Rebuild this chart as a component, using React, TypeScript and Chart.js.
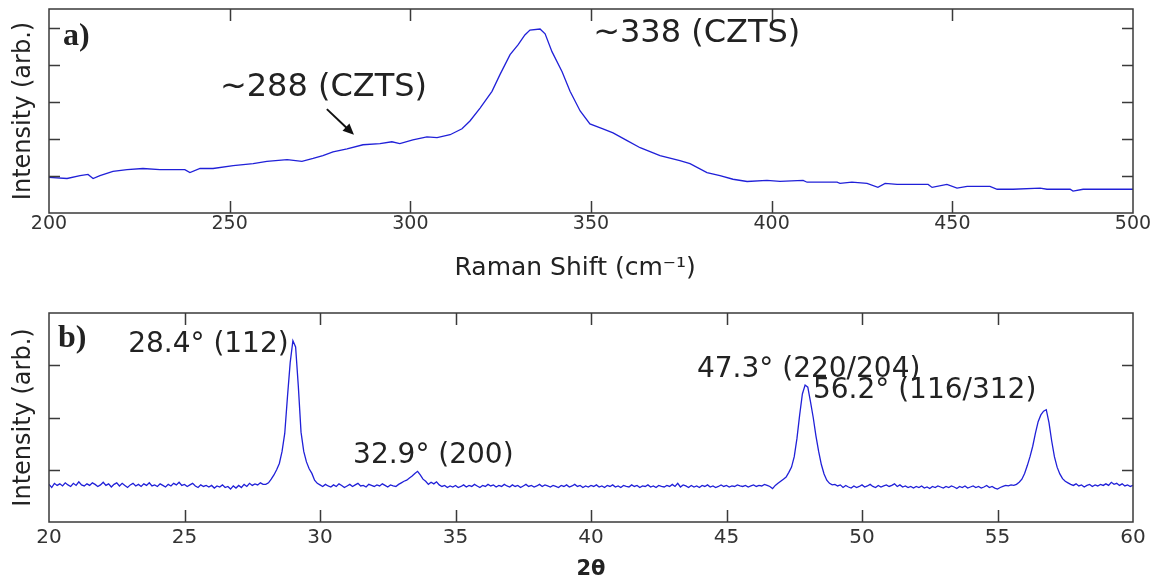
import React, { useEffect, useRef } from "react";
import { Chart, registerables } from "chart.js";

Chart.register(...registerables);

// ---------- Panel a) Raman ----------
const RAMAN_SHIFT = [
  200, 205, 208.6, 210.8, 212.2, 214.1, 217.7, 221.6, 226, 230.7, 237.6, 239, 241.8, 245.4, 251, 256.5,
  260.3, 265.9, 270, 273.1, 275.8, 278.6, 282.5, 286.9, 291.6, 294.9, 297.1, 300.7, 304.6, 307.4, 311,
  314.3, 316.5, 319.3, 322.6, 324.8, 327.6, 329.8, 331.7, 333.1, 335.9, 337.3, 339.2, 342, 344.2, 347,
  349.7, 353.3, 356.1, 360, 363.6, 369.1, 374.6, 377.4, 382.1, 385.7, 389.3, 393.2, 398.7, 402.3, 408.7,
  409.8, 418.1, 418.9, 422.2, 426.4, 429.4, 431.4, 434.7, 443.3, 444.4, 448.5, 451.3, 454.1, 460.4,
  462.4, 466.8, 474.3, 476.2, 482.6, 483.4, 486.2, 500,
];
const RAMAN_INTENSITY = [
  0.96, 0.93, 1.01, 1.04, 0.93, 1.01, 1.12, 1.17, 1.2, 1.17, 1.17, 1.09, 1.2, 1.2, 1.28, 1.33,
  1.39, 1.44, 1.39, 1.47, 1.55, 1.65, 1.73, 1.84, 1.87, 1.92, 1.87, 1.97, 2.05, 2.03, 2.11,
  2.27, 2.48, 2.83, 3.28, 3.73, 4.27, 4.53, 4.8, 4.93, 4.96, 4.83, 4.35, 3.81, 3.28, 2.75,
  2.4, 2.27, 2.16, 1.95, 1.76, 1.55, 1.41, 1.33, 1.09, 1.01, 0.91, 0.85, 0.88, 0.85, 0.88,
  0.83, 0.83, 0.8, 0.83, 0.8, 0.69, 0.8, 0.77, 0.77, 0.69, 0.77, 0.67, 0.72, 0.72,
  0.64, 0.64, 0.67, 0.64, 0.64, 0.59, 0.64, 0.64,
];
const RAMAN_X_MIN = 200;
const RAMAN_X_MAX = 500;
const RAMAN_X_STEP = 50;
const RAMAN_Y_MAX = 5.5;
const RAMAN_LABELS = ["a)", "~288 (CZTS)", "~338 (CZTS)"];
const RAMAN_LABEL_AT = [
  [203.9, 4.53],
  [247.3, 3.15],
  [350.6, 4.61],
];
const RAMAN_ARROW = [
  [276.9, 2.8],
  [284.4, 2.11],
];

// ---------- Panel b) XRD ----------
const XRD_START = 20;
const XRD_STEP = 0.1;
const XRD_INTENSITY = [
  0.72, 0.66, 0.74, 0.70, 0.73, 0.69, 0.75, 0.71, 0.68, 0.74,
  0.70, 0.77, 0.71, 0.69, 0.73, 0.70, 0.75, 0.72, 0.68, 0.71,
  0.76, 0.70, 0.73, 0.67, 0.72, 0.75, 0.69, 0.74, 0.70, 0.66,
  0.71, 0.74, 0.69, 0.72, 0.68, 0.73, 0.70, 0.75, 0.69, 0.71,
  0.68, 0.73, 0.70, 0.67, 0.72, 0.69, 0.74, 0.71, 0.76, 0.70,
  0.72, 0.68, 0.71, 0.74, 0.69, 0.66, 0.71, 0.68, 0.70, 0.67,
  0.70, 0.65, 0.69, 0.67, 0.71, 0.66, 0.68, 0.63, 0.69, 0.65,
  0.70, 0.66, 0.72, 0.68, 0.74, 0.70, 0.73, 0.71, 0.75, 0.72,
  0.72, 0.75, 0.82, 0.90, 1.00, 1.12, 1.35, 1.70, 2.40, 3.05,
  3.47, 3.35, 2.60, 1.72, 1.35, 1.15, 1.02, 0.93, 0.80, 0.74,
  0.71, 0.68, 0.72, 0.69, 0.67, 0.71, 0.68, 0.73, 0.70, 0.66,
  0.69, 0.72, 0.68, 0.71, 0.74, 0.69, 0.70, 0.67, 0.72, 0.70,
  0.68, 0.71, 0.69, 0.73, 0.70, 0.67, 0.71, 0.69, 0.68, 0.72,
  0.75, 0.78, 0.80, 0.84, 0.88, 0.93, 0.97, 0.90, 0.82, 0.78,
  0.72, 0.76, 0.73, 0.77, 0.71, 0.68, 0.70, 0.66, 0.69, 0.67,
  0.70, 0.66, 0.68, 0.71, 0.67, 0.70, 0.68, 0.72, 0.69, 0.66,
  0.70, 0.68, 0.72, 0.69, 0.71, 0.67, 0.70, 0.68, 0.72, 0.69,
  0.67, 0.71, 0.68, 0.70, 0.66, 0.69, 0.72, 0.68, 0.70, 0.67,
  0.69, 0.72, 0.68, 0.71, 0.69, 0.67, 0.70, 0.68, 0.66, 0.70,
  0.68, 0.71, 0.67, 0.69, 0.72, 0.68, 0.70, 0.66, 0.69, 0.67,
  0.70, 0.68, 0.71, 0.67, 0.69, 0.66, 0.70, 0.68, 0.71, 0.67,
  0.69, 0.66, 0.70, 0.68, 0.67, 0.71, 0.68, 0.70, 0.66, 0.69,
  0.68, 0.71, 0.67, 0.69, 0.66, 0.70, 0.68, 0.67, 0.70, 0.68,
  0.72, 0.68, 0.74, 0.67, 0.71, 0.69, 0.66, 0.70, 0.67, 0.69,
  0.66, 0.70, 0.68, 0.71, 0.67, 0.69, 0.66, 0.68, 0.71, 0.68,
  0.70, 0.67, 0.69, 0.68, 0.71, 0.69, 0.68, 0.70, 0.67, 0.69,
  0.71, 0.68, 0.70, 0.69, 0.72, 0.70, 0.68, 0.64, 0.70, 0.74,
  0.78, 0.82, 0.86, 0.95, 1.05, 1.25, 1.60, 2.05, 2.45, 2.62,
  2.58, 2.30, 2.00, 1.65, 1.35, 1.10, 0.92, 0.80, 0.74, 0.71,
  0.72, 0.69, 0.71, 0.66, 0.70, 0.67, 0.65, 0.69, 0.66, 0.68,
  0.71, 0.67, 0.69, 0.72, 0.68, 0.66, 0.70, 0.67, 0.69, 0.71,
  0.68, 0.70, 0.73, 0.68, 0.71, 0.67, 0.69, 0.66, 0.68, 0.65,
  0.68, 0.66, 0.69, 0.65, 0.67, 0.64, 0.68, 0.66, 0.69, 0.67,
  0.65, 0.68, 0.66, 0.69, 0.67, 0.64, 0.68, 0.66, 0.69, 0.65,
  0.67, 0.69, 0.66, 0.68, 0.65, 0.67, 0.70, 0.66, 0.68, 0.65,
  0.63, 0.66, 0.68, 0.70, 0.69, 0.71, 0.70, 0.72, 0.76, 0.82,
  0.93, 1.08, 1.25, 1.45, 1.70, 1.92, 2.05, 2.12, 2.15, 1.90,
  1.55, 1.25, 1.05, 0.92, 0.83, 0.78, 0.75, 0.72, 0.70, 0.73,
  0.69, 0.71, 0.67, 0.70, 0.72, 0.68, 0.71, 0.69, 0.72, 0.70,
  0.73, 0.70, 0.76, 0.72, 0.74, 0.70, 0.73, 0.69, 0.71, 0.68,
  0.70,
];
const XRD_TWO_THETA = XRD_INTENSITY.map((_, i) => Math.round((XRD_START + i * XRD_STEP) * 10) / 10);
const XRD_X_MIN = 20;
const XRD_X_MAX = 60;
const XRD_X_STEP = 5;
const XRD_Y_MAX = 4;
const XRD_LABELS = ["b)", "28.4° (112)", "32.9° (200)", "47.3° (220/204)", "56.2° (116/312)"];
const XRD_LABEL_AT = [
  [20.33, 3.35],
  [22.92, 3.25],
  [31.22, 1.13],
  [43.91, 2.77],
  [48.19, 2.38],
];

const LINE_COLOR = "#2020d8";
const FRAME_COLOR = "#3a3a3a";
const TEXT_COLOR = "#222";
const SANS = "'DejaVu Sans', sans-serif";

function framePlugin(xTick: number, yTick: number) {
  return {
    id: "frame",
    afterDraw(chart: any) {
      const { ctx, chartArea } = chart;
      const { left, right, top, bottom } = chartArea;
      const xs = chart.scales.x;
      const ys = chart.scales.y;
      ctx.save();
      ctx.strokeStyle = FRAME_COLOR;
      ctx.lineWidth = 1.5;
      ctx.strokeRect(left, top, right - left, bottom - top);
      ctx.beginPath();
      xs.ticks.forEach((t: any) => {
        if (t.value <= xs.min || t.value >= xs.max) return;
        const px = Math.round(xs.getPixelForValue(t.value)) + 0.5;
        ctx.moveTo(px, bottom);
        ctx.lineTo(px, bottom - xTick);
        ctx.moveTo(px, top);
        ctx.lineTo(px, top + xTick);
      });
      ys.ticks.forEach((t: any) => {
        if (t.value <= ys.min || t.value >= ys.max) return;
        const py = Math.round(ys.getPixelForValue(t.value)) + 0.5;
        ctx.moveTo(left, py);
        ctx.lineTo(left + yTick, py);
        ctx.moveTo(right, py);
        ctx.lineTo(right - yTick, py);
      });
      ctx.stroke();
      ctx.restore();
    },
  };
}

function labelPlugin(labels: string[], at: number[][], fonts: string[], arrow?: number[][]) {
  return {
    id: "labels",
    afterDraw(chart: any) {
      const { ctx } = chart;
      const xs = chart.scales.x;
      const ys = chart.scales.y;
      ctx.save();
      ctx.fillStyle = TEXT_COLOR;
      ctx.textAlign = "left";
      ctx.textBaseline = "alphabetic";
      labels.forEach((txt, i) => {
        ctx.font = fonts[i];
        ctx.fillText(txt, xs.getPixelForValue(at[i][0]), ys.getPixelForValue(at[i][1]));
      });
      if (arrow) {
        const x1 = xs.getPixelForValue(arrow[0][0]);
        const y1 = ys.getPixelForValue(arrow[0][1]);
        const x2 = xs.getPixelForValue(arrow[1][0]);
        const y2 = ys.getPixelForValue(arrow[1][1]);
        const ang = Math.atan2(y2 - y1, x2 - x1);
        const head = 11;
        const hw = 5;
        ctx.strokeStyle = "#111";
        ctx.fillStyle = "#111";
        ctx.lineWidth = 2;
        ctx.beginPath();
        ctx.moveTo(x1, y1);
        ctx.lineTo(x2 - Math.cos(ang) * head * 0.8, y2 - Math.sin(ang) * head * 0.8);
        ctx.stroke();
        ctx.beginPath();
        ctx.moveTo(x2, y2);
        ctx.lineTo(
          x2 - Math.cos(ang) * head + Math.sin(ang) * hw,
          y2 - Math.sin(ang) * head - Math.cos(ang) * hw
        );
        ctx.lineTo(
          x2 - Math.cos(ang) * head - Math.sin(ang) * hw,
          y2 - Math.sin(ang) * head + Math.cos(ang) * hw
        );
        ctx.closePath();
        ctx.fill();
      }
      ctx.restore();
    },
  };
}

function buildConfig(opts: {
  xs: number[];
  ys: number[];
  xMin: number;
  xMax: number;
  xStep: number;
  yMax: number;
  xTitle: string;
  xTitleFont: any;
  xTickSize: number;
  xTickPad: number;
  xAxisHeight: number;
  padding: any;
  plugins: any[];
}): any {
  const points = opts.xs.map((x, i) => ({ x, y: opts.ys[i] }));
  return {
    type: "scatter",
    data: {
      datasets: [
        {
          data: points,
          showLine: true,
          borderColor: LINE_COLOR,
          borderWidth: 1.3,
          pointRadius: 0,
          tension: 0,
          fill: false,
        },
      ],
    },
    options: {
      animation: false,
      responsive: false,
      devicePixelRatio: 1,
      layout: { padding: opts.padding },
      plugins: { legend: { display: false }, tooltip: { enabled: false } },
      scales: {
        x: {
          type: "linear",
          min: opts.xMin,
          max: opts.xMax,
          grid: { display: false, drawTicks: false },
          border: { display: false },
          ticks: {
            stepSize: opts.xStep,
            color: "#333",
            font: { family: SANS, size: opts.xTickSize },
            padding: opts.xTickPad,
            maxRotation: 0,
            autoSkip: false,
          },
          title: {
            display: true,
            text: opts.xTitle,
            color: TEXT_COLOR,
            font: opts.xTitleFont,
            padding: 0,
          },
          afterFit: (s: any) => {
            s.height = opts.xAxisHeight;
          },
        },
        y: {
          type: "linear",
          min: 0,
          max: opts.yMax,
          grid: { display: false, drawTicks: false },
          border: { display: false },
          ticks: { display: false, stepSize: 1 },
          title: {
            display: true,
            text: "Intensity (arb.)",
            color: TEXT_COLOR,
            font: { family: SANS, size: 24 },
            padding: 0,
          },
          afterFit: (s: any) => {
            s.width = 40;
          },
        },
      },
    },
    plugins: opts.plugins,
  };
}

export default function App() {
  const refA = useRef<HTMLCanvasElement>(null);
  const refB = useRef<HTMLCanvasElement>(null);

  useEffect(() => {
    const annoA = "32px " + SANS;
    const chartA = new Chart(
      refA.current as HTMLCanvasElement,
      buildConfig({
        xs: RAMAN_SHIFT,
        ys: RAMAN_INTENSITY,
        xMin: RAMAN_X_MIN,
        xMax: RAMAN_X_MAX,
        xStep: RAMAN_X_STEP,
        yMax: RAMAN_Y_MAX,
        xTitle: "Raman Shift (cm⁻¹)\u00a0\u00a0\u00a0\u00a0",
        xTitleFont: { family: SANS, size: 25 },
        xTickSize: 19,
        xTickPad: 0,
        xAxisHeight: 70,
        padding: { left: 9, right: 28, top: 9, bottom: 12 },
        plugins: [
          framePlugin(12, 11),
          labelPlugin(
            RAMAN_LABELS,
            RAMAN_LABEL_AT,
            ["bold 32px 'Liberation Serif', serif", annoA, annoA],
            RAMAN_ARROW
          ),
        ],
      })
    );
    const annoB = "28px " + SANS;
    const chartB = new Chart(
      refB.current as HTMLCanvasElement,
      buildConfig({
        xs: XRD_TWO_THETA,
        ys: XRD_INTENSITY,
        xMin: XRD_X_MIN,
        xMax: XRD_X_MAX,
        xStep: XRD_X_STEP,
        yMax: XRD_Y_MAX,
        xTitle: "2θ",
        xTitleFont: { family: SANS, size: 21, weight: "bold" },
        xTickSize: 20,
        xTickPad: 4,
        xAxisHeight: 60,
        padding: { left: 9, right: 28, top: 18, bottom: 4 },
        plugins: [
          framePlugin(12, 11),
          labelPlugin(XRD_LABELS, XRD_LABEL_AT, [
            "bold 32px 'Liberation Serif', serif",
            annoB,
            annoB,
            annoB,
            annoB,
          ]),
        ],
      })
    );
    return () => {
      chartA.destroy();
      chartB.destroy();
    };
  }, []);

  return (
    <div
      style={{
        position: "fixed",
        left: 0,
        top: 0,
        width: 1161,
        height: 586,
        background: "#fff",
        overflow: "hidden",
      }}
    >
      <canvas ref={refA} width={1161} height={295} style={{ display: "block", width: 1161, height: 295 }} />
      <canvas ref={refB} width={1161} height={291} style={{ display: "block", width: 1161, height: 291 }} />
    </div>
  );
}
